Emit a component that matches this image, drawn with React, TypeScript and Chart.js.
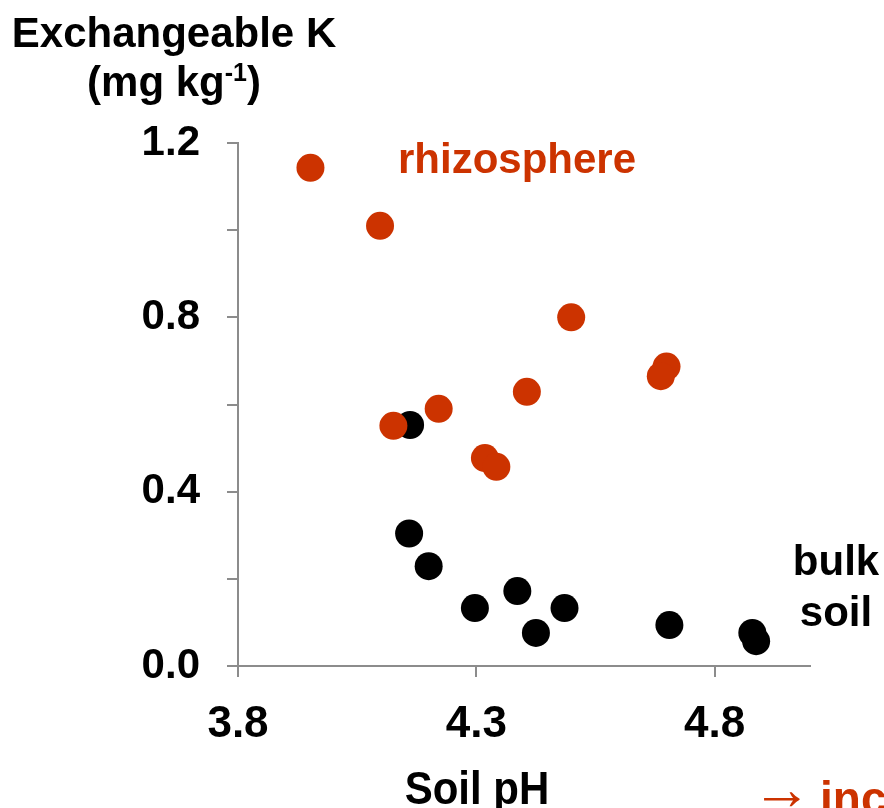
import React, { useEffect, useRef } from 'react';
import { Chart, registerables } from 'chart.js';

Chart.register(...registerables);

// Rhizosphere samples (red)
const rhizoPH = [3.952, 4.098, 4.499, 4.699, 4.687, 4.406, 4.221, 4.126, 4.318, 4.342];
const rhizoK = [1.143, 1.01, 0.8, 0.687, 0.665, 0.629, 0.59, 0.551, 0.477, 0.457];
// Bulk soil samples (black)
const bulkPH = [4.161, 4.159, 4.2, 4.297, 4.386, 4.485, 4.425, 4.705, 4.879, 4.887];
const bulkK = [0.553, 0.304, 0.229, 0.133, 0.172, 0.133, 0.076, 0.094, 0.076, 0.057];

const xTicks = [3.8, 4.3, 4.8];
const yTicks = [0, 0.2, 0.4, 0.6, 0.8, 1.0, 1.2];
const yLabelled = [0, 0.4, 0.8, 1.2];

const RED = '#cc3300';
const AXIS = '#8c8c8c';
const FONT = "'Liberation Sans', Arial, sans-serif";

const annotations = {
  id: 'annotations',
  afterDraw(chart: any) {
    const ctx = chart.ctx as CanvasRenderingContext2D;
    ctx.save();
    ctx.fillStyle = '#000';
    ctx.textBaseline = 'alphabetic';

    // Y axis title (two lines, with superscript)
    ctx.font = `bold 42px ${FONT}`;
    ctx.textAlign = 'center';
    ctx.fillText('Exchangeable K', 174, 47);

    const p1 = '(mg kg';
    const sup = '-1';
    const p3 = ')';
    ctx.font = `bold 42px ${FONT}`;
    const w1 = ctx.measureText(p1).width;
    const w3 = ctx.measureText(p3).width;
    ctx.font = `bold 25px ${FONT}`;
    const w2 = ctx.measureText(sup).width;
    let x = 174 - (w1 + w2 + w3) / 2;
    ctx.textAlign = 'left';
    ctx.font = `bold 42px ${FONT}`;
    ctx.fillText(p1, x, 96);
    x += w1;
    ctx.font = `bold 25px ${FONT}`;
    ctx.fillText(sup, x, 81);
    x += w2;
    ctx.font = `bold 42px ${FONT}`;
    ctx.fillText(p3, x, 96);

    // Series labels
    ctx.fillStyle = RED;
    ctx.textAlign = 'left';
    ctx.fillText('rhizosphere', 398, 173);

    ctx.fillStyle = '#000';
    ctx.textAlign = 'center';
    ctx.fillText('bulk', 836, 575);
    ctx.fillText('soil', 836, 626);

    // X axis title (slightly tall)
    ctx.save();
    ctx.translate(477, 804);
    ctx.scale(1, 1.12);
    ctx.fillText('Soil pH', 0, 0);
    ctx.restore();

    // Arrow text at bottom right (cut by the frame)
    ctx.fillStyle = RED;
    ctx.textAlign = 'left';
    ctx.font = `normal 60px ${FONT}`;
    ctx.fillText('\u2192', 752, 809);
    ctx.font = `bold 46px ${FONT}`;
    ctx.fillText('increase', 820, 814);

    ctx.restore();
  },
};

export default function App() {
  const canvasRef = useRef<HTMLCanvasElement | null>(null);

  useEffect(() => {
    document.body.style.margin = '0';
    const canvas = canvasRef.current;
    if (!canvas) return;

    const chart = new Chart(canvas, {
      type: 'scatter',
      data: {
        datasets: [
          {
            label: 'rhizosphere',
            data: rhizoPH.map((v, i) => ({ x: v, y: rhizoK[i] })),
            backgroundColor: RED,
            borderWidth: 0,
            pointRadius: 14,
            pointHoverRadius: 14,
            order: 0,
          },
          {
            label: 'bulk soil',
            data: bulkPH.map((v, i) => ({ x: v, y: bulkK[i] })),
            backgroundColor: '#000000',
            borderWidth: 0,
            pointRadius: 14,
            pointHoverRadius: 14,
            order: 1,
          },
        ],
      },
      options: {
        animation: false,
        responsive: true,
        maintainAspectRatio: false,
        layout: { padding: { top: 143, right: 74, left: 0, bottom: 0 } },
        plugins: {
          legend: { display: false },
          tooltip: { enabled: false },
          title: { display: false },
        },
        scales: {
          x: {
            type: 'linear',
            min: 3.8,
            max: 5.0,
            afterBuildTicks: (s: any) => {
              s.ticks = xTicks.map((v) => ({ value: v }));
            },
            afterFit: (s: any) => {
              s.height = 808 - 666;
            },
            ticks: {
              callback: (v: any) => Number(v).toFixed(1),
              color: '#000',
              font: { family: FONT, size: 44, weight: 'bold' },
              padding: 21,
              maxRotation: 0,
              autoSkip: false,
            },
            grid: {
              drawOnChartArea: false,
              drawTicks: true,
              tickLength: 11,
              color: AXIS,
              lineWidth: 2,
            },
            border: { color: AXIS, width: 2 },
          },
          y: {
            type: 'linear',
            min: 0,
            max: 1.2,
            afterBuildTicks: (s: any) => {
              s.ticks = yTicks.map((v) => ({ value: v }));
            },
            afterFit: (s: any) => {
              s.width = 238;
            },
            ticks: {
              callback: (v: any) =>
                yLabelled.some((t) => Math.abs(t - Number(v)) < 1e-6) ? Number(v).toFixed(1) : '',
              color: '#000',
              font: { family: FONT, size: 42, weight: 'bold' },
              padding: 27,
              autoSkip: false,
            },
            grid: {
              drawOnChartArea: false,
              drawTicks: true,
              tickLength: 11,
              color: AXIS,
              lineWidth: 2,
            },
            border: { color: AXIS, width: 2 },
          },
        },
      },
      plugins: [annotations],
    });

    return () => chart.destroy();
  }, []);

  return (
    <div style={{ position: 'relative', width: 884, height: 808 }}>
      <canvas ref={canvasRef} />
    </div>
  );
}
